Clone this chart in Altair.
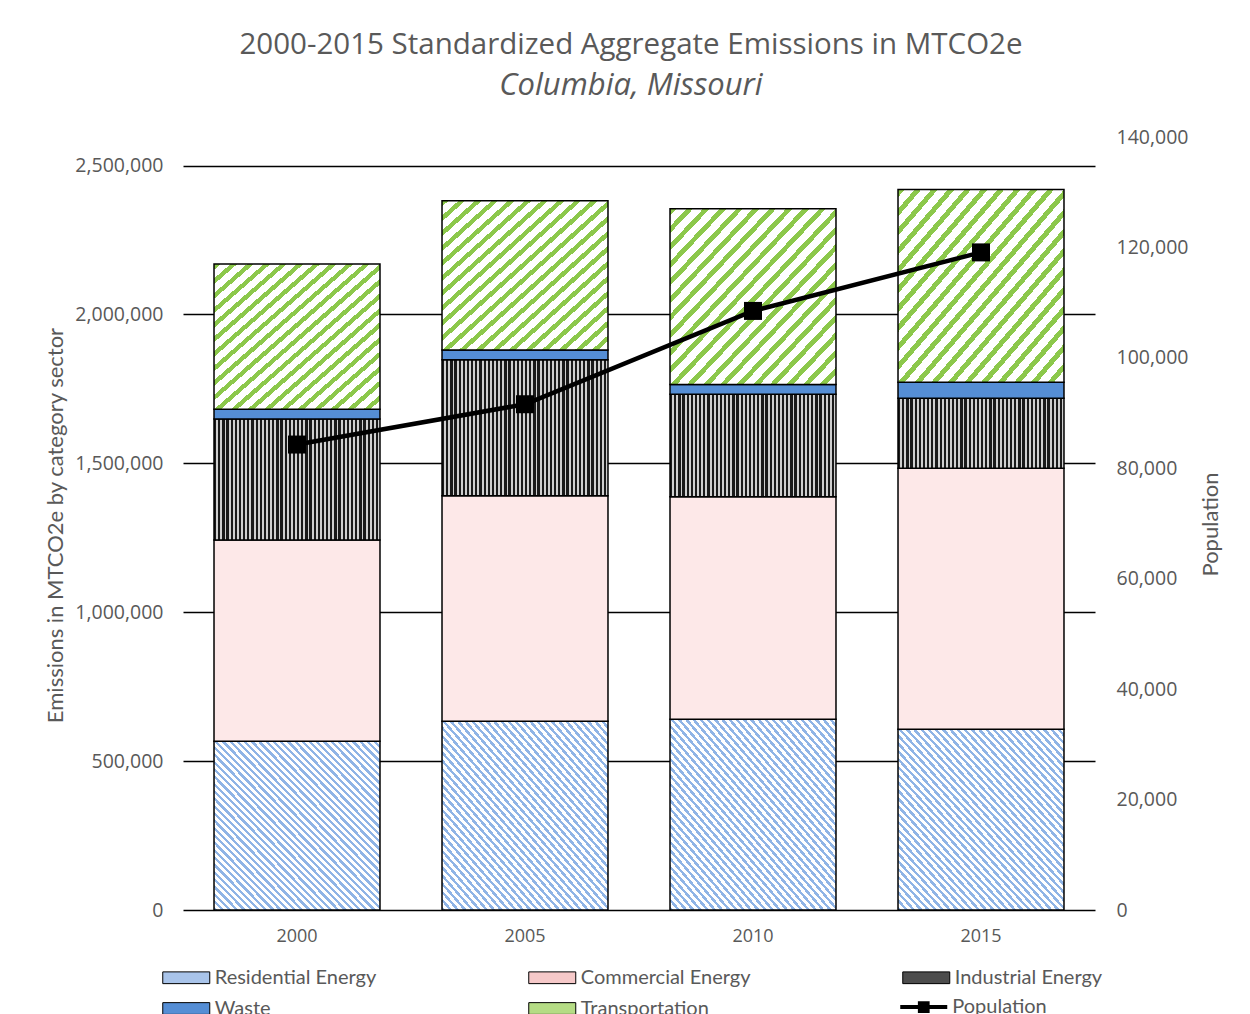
import altair as alt
import pandas as pd

# ---------------- data ----------------
years = ["2000", "2005", "2010", "2015"]
sectors = ["Residential Energy", "Commercial Energy", "Industrial Energy", "Waste", "Transportation"]
residential = [566600, 633800, 640600, 606900]
commercial = [675800, 757600, 747500, 876600]
industrial = [406900, 456300, 344200, 235400]
waste = [32000, 32600, 32400, 53800]
transportation = [488200, 502000, 590700, 646600]
population = [84300, 91600, 108500, 119100]
pop_series = ["Population"] * 4

emission_ticks = [0, 500000, 1000000, 1500000, 2000000, 2500000]
population_ticks = [0, 20000, 40000, 60000, 80000, 100000, 120000, 140000]

series = [residential, commercial, industrial, waste, transportation]
rows = []
for si, (name, vals) in enumerate(zip(sectors, series)):
    for yr, v in zip(years, vals):
        rows.append({"year": yr, "sector": name, "order": si, "value": v})
df = pd.DataFrame(rows)
pop_df = pd.DataFrame({"year": years, "population": population, "series": pop_series})

# ---------------- styles ----------------
GRAY = "#595959"


def stripes(n, line_color, bg_color, frac, x1, y1, x2, y2):
    stops = []
    for i in range(n):
        a = round(i / n, 5)
        b = round((i + frac) / n, 5)
        c = round((i + 1) / n, 5)
        stops += [
            {"offset": a, "color": line_color},
            {"offset": b, "color": line_color},
            {"offset": b, "color": bg_color},
            {"offset": c, "color": bg_color},
        ]
    return {"gradient": "linear", "x1": x1, "y1": y1, "x2": x2, "y2": y2, "stops": stops}


g_res = stripes(46, "#8fb4e6", "#ffffff", 0.45, 0, 1, 1, 0)
g_ind = stripes(40, "#1a1a1a", "#cfcfcf", 0.55, 0, 0, 1, 0)
g_tra = stripes(20, "#8cc84b", "#ffffff", 0.4, 0, 0, 1, 1)

fill_cond = {
    "condition": [
        {"test": "datum.sector === 'Residential Energy'", "value": g_res},
        {"test": "datum.sector === 'Commercial Energy'", "value": "#fde8e8"},
        {"test": "datum.sector === 'Industrial Energy'", "value": g_ind},
        {"test": "datum.sector === 'Waste'", "value": "#558ed5"},
        {"test": "datum.sector === 'Transportation'", "value": g_tra},
    ],
    "value": "#ffffff",
}

legend_colors = ["#a9c4ea", "#f6c9c9", "#4d4d4d", "#558ed5", "#b5dc85"]

rect_path = "M-1,-0.5L3,-0.5L3,0.5L-1,0.5Z"
pop_path = "M-1,-0.17L3,-0.17L3,0.17L-1,0.17Z M0.5,-0.5L1.5,-0.5L1.5,0.5L0.5,0.5Z"
SYM = 552.25

x_enc = alt.X(
    "year:N",
    scale=alt.Scale(paddingInner=0.272, paddingOuter=0.136),
    axis=alt.Axis(title=None, labelAngle=0, domain=False, ticks=False, grid=False,
                  labelPadding=17, labelFontSize=18),
)

y_axis = alt.Axis(
    title="Emissions in MTCO2e by category sector",
    values=emission_ticks, format=",.0f", grid=True, gridColor="black", gridWidth=1.6,
    domain=False, ticks=False, labelPadding=20, labelFontSize=19.5,
    titleX=-128, titleY=388, titleAngle=270, titleAlign="center", titleBaseline="middle",
)
y_scale = alt.Scale(domain=[0, 2596000], nice=False, zero=True)

base = alt.Chart(df).mark_bar(strokeWidth=0).encode(
    x=x_enc,
    y=alt.Y("value:Q", stack="zero", scale=y_scale, axis=y_axis),
    fill=alt.Fill(
        "sector:N",
        scale=alt.Scale(domain=sectors, range=legend_colors),
        legend=alt.Legend(
            title=None, orient="none", direction="horizontal", legendX=-21, legendY=828,
            columns=3, columnPadding=149, rowPadding=8, symbolType=rect_path,
            symbolSize=SYM, symbolStrokeColor="black", symbolStrokeWidth=1,
            labelOffset=27.75, labelLimit=400, padding=0,
        ),
    ),
    order=alt.Order("order:Q", sort="ascending"),
)

pattern = alt.Chart(df).mark_bar(stroke="black", strokeWidth=1.5).encode(
    x=x_enc,
    y=alt.Y("value:Q", stack="zero", scale=y_scale, axis=y_axis),
    detail="sector:N",
    order=alt.Order("order:Q", sort="ascending"),
    fill=fill_cond,
)

pop_axis = alt.Axis(
    orient="right", title="Population", values=population_ticks, format=",.0f",
    grid=False, domain=False, ticks=False, labelPadding=21, labelFontSize=19.5,
    titleX=115, titleY=387, titleAngle=270, titleAlign="center", titleBaseline="middle",
)
pop_scale = alt.Scale(domain=[0, 140000], nice=False, zero=True)

line = alt.Chart(pop_df).mark_line(color="black", strokeWidth=4.5).encode(
    x=x_enc,
    y=alt.Y("population:Q", scale=pop_scale, axis=pop_axis),
)
points = alt.Chart(pop_df).mark_point(shape="square", filled=True, size=324,
                                      color="black", opacity=1).encode(
    x=x_enc,
    y=alt.Y("population:Q", scale=pop_scale, axis=pop_axis),
)
pop_legend = alt.Chart(pop_df).mark_point(opacity=0, filled=True, fill="black").encode(
    x=x_enc,
    y=alt.Y("population:Q", scale=pop_scale, axis=pop_axis),
    shape=alt.Shape(
        "series:N",
        scale=alt.Scale(domain=["Population"], range=[pop_path]),
        legend=alt.Legend(
            title=None, orient="none", legendX=717, legendY=858,
            symbolSize=SYM, symbolStrokeWidth=0, symbolFillColor="black",
            symbolOpacity=1, labelOffset=28.25, labelLimit=400, padding=0,
        ),
    ),
)

bars = alt.layer(base, pattern)
pops = alt.layer(line, points, pop_legend)

chart = (
    alt.layer(bars, pops)
    .resolve_scale(y="independent")
    .properties(
        width=912,
        height=773,
        title=alt.TitleParams(
            text="2000-2015 Standardized Aggregate Emissions in MTCO2e",
            subtitle="Columbia, Missouri",
            anchor="middle", dx=-8, offset=25,
            font="Open Sans", fontSize=29.5, fontWeight="normal", color=GRAY,
            subtitleFont="Open Sans", subtitleFontSize=31, subtitleFontStyle="italic",
            subtitleColor=GRAY, subtitlePadding=11,
        ),
        autosize=alt.AutoSizeParams(type="none"),
        padding={"left": 175, "top": 129, "right": 147, "bottom": 106},
    )
    .configure(font="Open Sans")
    .configure_view(stroke=None)
    .configure_axis(
        labelFont="Open Sans", labelColor=GRAY,
        titleFont="Lato", titleFontSize=22, titleColor=GRAY, titleFontWeight="normal",
    )
    .configure_legend(labelFont="Lato", labelFontSize=20, labelColor=GRAY)
)

chart.save("out.html", embed_options={"renderer": "svg", "actions": False})
